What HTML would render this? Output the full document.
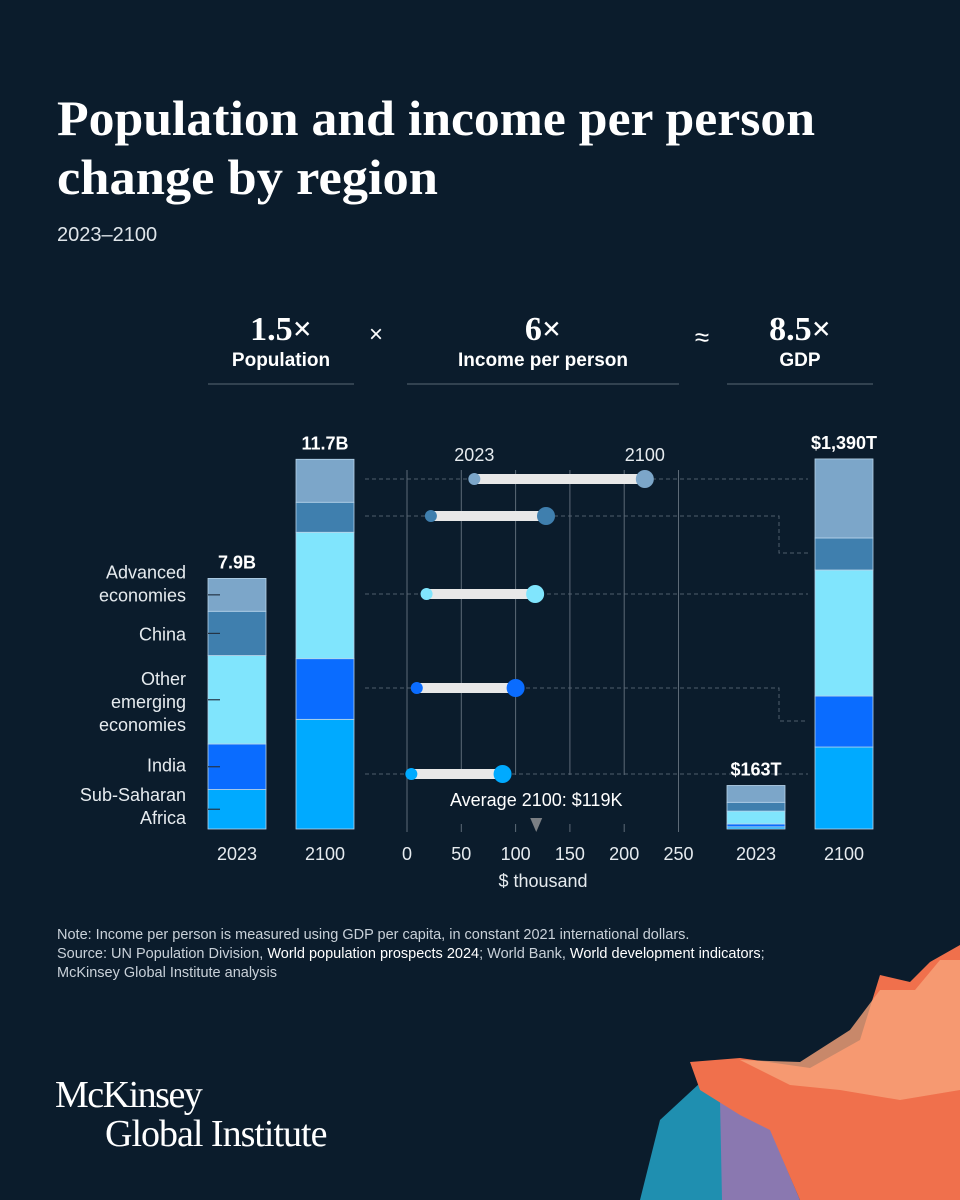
<!DOCTYPE html>
<html><head><meta charset="utf-8"><style>
html,body{margin:0;padding:0;background:#0b1c2c;}
svg{display:block;font-family:"Liberation Sans",sans-serif;}
.serif{font-family:"Liberation Serif",serif;}
</style></head><body>
<svg id="chart" width="960" height="1200" viewBox="0 0 960 1200">
<rect width="960" height="1200" fill="#0b1c2c"/>
<g>
<polygon points="640,1200 660,1120 700,1083 728,1110 732,1200" fill="#1f8fb0"/>
<polygon points="720,1100 760,1105 800,1200 722,1200" fill="#8a78b0"/>
<polygon points="690,1062 740,1058 810,1068 860,1040 880,975 910,982 930,962 960,945 960,1200 800,1200 770,1130 740,1115 700,1090" fill="#f0704c"/>
<polygon points="740,1060 800,1062 850,1030 880,990 915,990 940,960 960,960 960,1090 900,1100 840,1090 790,1085" fill="#f7a47a" opacity="0.8"/>
</g>
<text class="serif" x="57" y="135" font-size="50" font-weight="bold" fill="#fff" textLength="758" lengthAdjust="spacingAndGlyphs">Population and income per person</text>
<text class="serif" x="57" y="194" font-size="50" font-weight="bold" fill="#fff" textLength="381" lengthAdjust="spacingAndGlyphs">change by region</text>
<text x="57" y="241" font-size="20" fill="#dfe5ea">2023–2100</text>

<g fill="#fff" text-anchor="middle">
<text class="serif" x="281" y="340" font-size="34" font-weight="bold">1.5×</text>
<text x="281" y="366" font-size="19" font-weight="bold">Population</text>
<text x="376" y="342" font-size="24">×</text>
<text class="serif" x="543" y="340" font-size="34" font-weight="bold">6×</text>
<text x="543" y="366" font-size="19" font-weight="bold">Income per person</text>
<text x="702" y="346" font-size="26">≈</text>
<text class="serif" x="800" y="340" font-size="34" font-weight="bold">8.5×</text>
<text x="800" y="366" font-size="19" font-weight="bold">GDP</text>
<line x1="208" y1="384" x2="354" y2="384" stroke="#5a6775"/>
<line x1="407" y1="384" x2="679" y2="384" stroke="#5a6775"/>
<line x1="727" y1="384" x2="873" y2="384" stroke="#5a6775"/>
</g>
<g id="plot"></g>

<g font-size="14.5" fill="#c9d1d9">
<text x="57" y="939">Note: Income per person is measured using GDP per capita, in constant 2021 international dollars.</text>
<text x="57" y="958">Source: UN Population Division, <tspan fill="#fff">World population prospects 2024</tspan>; World Bank, <tspan fill="#fff">World development indicators</tspan>;</text>
<text x="57" y="977">McKinsey Global Institute analysis</text>
</g>
<text class="serif" x="55" y="1107" font-size="38" fill="#fff" letter-spacing="-1.5">McKinsey</text>
<text class="serif" x="105" y="1146" font-size="38" fill="#fff" letter-spacing="-1">Global Institute</text>
</svg>
<script>
const regions = ["Advanced economies","China","Other emerging economies","India","Sub-Saharan Africa"];
const colors = ["#7ca6c9","#3f7fae","#80e5fd","#0a6cff","#00aaff"];
const pop2023 = [1.04,1.40,2.80,1.44,1.25];
const pop2100 = [1.36,0.95,4.00,1.92,3.47];
const income2023 = [62,22,18,9,4];
const income2100 = [219,128,118,100,88];
const gdp2023 = [63,33,48,11,8];
const gdp2100 = [296,120,472,191,307];
const incomeTicks = [0,50,100,150,200,250];
const avgIncome2100 = 119;
const popTotals = ["7.9B","11.7B"];
const gdpTotals = ["$163T","$1,390T"];
const rowY = [479,516,594,688,774];

const NS="http://www.w3.org/2000/svg";
const plot=document.getElementById('plot');
function mk(tag,attrs,parent){const e=document.createElementNS(NS,tag);for(const k in attrs)e.setAttribute(k,attrs[k]);(parent||plot).appendChild(e);return e;}
const baseY=829;
const popScale=v=>v*31.6;
const gdpScale=v=>v*0.267;
const xInc=v=>407+v*1.086;

const dashRight=[[479,808,479],[516,779,553],[594,808,594],[688,779,721],[774,808,774]];
for(let i=0;i<rowY.length;i++){
  const d=dashRight[i];
  let p='M365 '+rowY[i]+' L'+d[1]+' '+rowY[i];
  if(d[2]!==rowY[i]) p+=' L'+d[1]+' '+d[2]+' L808 '+d[2];
  const el=mk('path',{d:p,stroke:'#4f5e6c','stroke-dasharray':'4 3',fill:'none'});
  
  
}
incomeTicks.forEach((t,i)=>{
  const x=xInc(t);
  const edge=(i===0||i===incomeTicks.length-1);
  const g=mk('line',{x1:x,y1:470,x2:x,y2:edge?832:775,stroke:'#5d6a77'});
  
  
  if(!edge){const tk=mk('line',{x1:x,y1:824,x2:x,y2:832,stroke:'#5d6a77'});
    
    }
  const lb=mk('text',{x:x,y:860,'font-size':18,fill:'#e6ebef','text-anchor':'middle'});
  lb.textContent=t;
  
  
});
const xt=mk('text',{x:543,y:887,'font-size':18,fill:'#e6ebef','text-anchor':'middle'});
xt.textContent='$ thousand';


[[income2023[0],'2023'],[income2100[0],'2100']].forEach((a)=>{
  const t=mk('text',{x:xInc(a[0]),y:461,'font-size':18,fill:'#e6ebef','text-anchor':'middle'});
  t.textContent=a[1];
  
  
});
function stack(vals,x,scale,name){
  let y=baseY;
  for(let i=vals.length-1;i>=0;i--){
    const h=scale(vals[i]);y-=h;
    const r=mk('rect',{x:x,y:y,width:58,height:h,fill:colors[i],stroke:'#b8d4ea','stroke-width':0.8});
    
    
  }
  return y;
}
const tops=[stack(pop2023,208,popScale,'pop-2023-segment'),stack(pop2100,296,popScale,'pop-2100-segment'),stack(gdp2023,727,gdpScale,'gdp-2023-segment'),stack(gdp2100,815,gdpScale,'gdp-2100-segment')];
const xs=[237,325,756,844];
const totals=[popTotals[0],popTotals[1],gdpTotals[0],gdpTotals[1]];
for(let i=0;i<4;i++){
  const t=mk('text',{x:xs[i],y:tops[i]-10,'font-size':18,'font-weight':'bold',fill:'#fff','text-anchor':'middle'});
  t.textContent=totals[i];
  
  
  const yl=mk('text',{x:xs[i],y:860,'font-size':18,fill:'#e6ebef','text-anchor':'middle'});
  yl.textContent=(i%2===0)?'2023':'2100';
  
  
}
const labelLines=[["Advanced","economies"],["China"],["Other","emerging","economies"],["India"],["Sub-Saharan","Africa"]];
const labelShift=[-11,1,2,-1,-3];
const mids=[];
let yy=tops[0];
pop2023.forEach(v=>{const h=popScale(v);mids.push(yy+h/2);yy+=h;});
labelLines.forEach((lines,i)=>{
  const m=mids[i];
  const tk=mk('line',{x1:208,y1:m,x2:220,y2:m,stroke:'#243446','stroke-width':1.2});
  
  
  const n=lines.length;
  lines.forEach((s,j)=>{
    const t=mk('text',{x:186,y:m+labelShift[i]+6+(j-(n-1)/2)*23,'font-size':18,fill:'#e6ebef','text-anchor':'end'});
    t.textContent=s;
    
    
  });
});
regions.forEach((r,i)=>{
  const y=rowY[i];
  const ln=mk('line',{x1:xInc(income2023[i]),y1:y,x2:xInc(income2100[i]),y2:y,stroke:'#e8e8e8','stroke-width':10});
  
  
  const c1=mk('circle',{cx:xInc(income2023[i]),cy:y,r:6,fill:colors[i]});
  
  
  const c2=mk('circle',{cx:xInc(income2100[i]),cy:y,r:9,fill:colors[i]});
  
  
});
const ax=xInc(avgIncome2100);
const at=mk('text',{x:ax,y:806,'font-size':18,fill:'#fff','text-anchor':'middle'});
at.textContent='Average 2100: $'+avgIncome2100+'K';


const tri=mk('polygon',{points:(ax-6)+',818 '+(ax+6)+',818 '+ax+',832',fill:'#7b7f84'});


</script>
</body></html>
